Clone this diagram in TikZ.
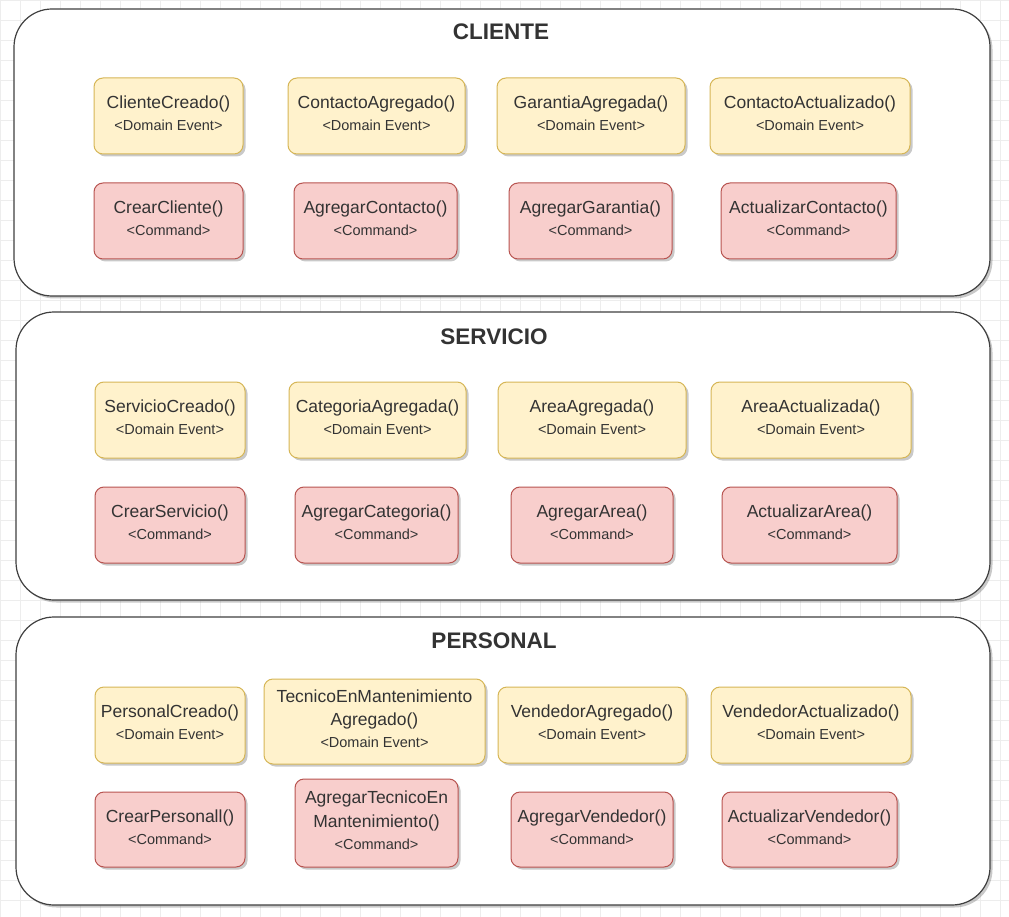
\documentclass[tikz,border=0pt]{standalone}
\usepackage{fontspec}
\setmainfont{Liberation Sans}
\usetikzlibrary{shadows}
\definecolor{evfill}{HTML}{FFF2CC}
\definecolor{evline}{HTML}{D6B656}
\definecolor{cmfill}{HTML}{F8CECC}
\definecolor{cmline}{HTML}{B85450}
\definecolor{txt}{HTML}{333333}
\newcommand{\evlabel}[1]{#1\\[-1.5pt]{\fontsize{14.5}{18}\selectfont <Domain Event>}\rule[-5.5pt]{0pt}{5.5pt}}
\newcommand{\cmlabel}[1]{#1\\[-1.5pt]{\fontsize{14.5}{18}\selectfont <Command>}\rule[-5.5pt]{0pt}{5.5pt}}
\begin{document}
\begin{tikzpicture}[x=1pt, y=-1pt,
    every node/.style={text=txt, align=center, font=\fontsize{17.5}{23.5}\selectfont},
    sdw/.style={drop shadow={shadow xshift=2.5pt, shadow yshift=-2.5pt, opacity=0.35, fill=black!60}},
    ctx/.style={draw=black!75, line width=1.2pt, fill=white, rounded corners=38pt, sdw},
    ctxtitle/.style={font=\fontsize{22.5}{26}\selectfont\bfseries},
    evbox/.style={draw=evline, fill=evfill, line width=1pt, rounded corners=9pt, inner sep=0pt, sdw},
    cmbox/.style={draw=cmline, fill=cmfill, line width=1pt, rounded corners=9pt, inner sep=0pt, sdw}]
    \useasboundingbox (0,0) rectangle (1009,917);
    \fill[white] (0,0) rectangle (1009,917);
    \draw[black!7, step=20pt] (0,0) grid (1009,917);

    \draw[ctx] (14,9) rectangle (990,296);
    \draw[ctx] (16,312) rectangle (990,600);
    \draw[ctx] (16,617) rectangle (990,905);
    \node[ctxtitle] (cliente) at (501,32) {CLIENTE};
    \node[ctxtitle] (servicio) at (494,337) {SERVICIO};
    \node[ctxtitle] (personal) at (494,641) {PERSONAL};

    \node[evbox, minimum width=149pt, minimum height=76pt] (ev11) at (168.5,116) {\evlabel{ClienteCreado()}};
    \node[evbox, minimum width=177pt, minimum height=76pt] (ev12) at (376.5,116) {\evlabel{ContactoAgregado()}};
    \node[evbox, minimum width=188pt, minimum height=76pt] (ev13) at (591,116) {\evlabel{GarantiaAgregada()}};
    \node[evbox, minimum width=200pt, minimum height=76pt] (ev14) at (810,116) {\evlabel{ContactoActualizado()}};
    \node[cmbox, minimum width=149pt, minimum height=76pt] (cm11) at (168.5,221) {\cmlabel{CrearCliente()}};
    \node[cmbox, minimum width=163pt, minimum height=76pt] (cm12) at (375.5,221) {\cmlabel{AgregarContacto()}};
    \node[cmbox, minimum width=163pt, minimum height=76pt] (cm13) at (590.5,221) {\cmlabel{AgregarGarantia()}};
    \node[cmbox, minimum width=175pt, minimum height=76pt] (cm14) at (808.5,221) {\cmlabel{ActualizarContacto()}};

    \node[evbox, minimum width=150pt, minimum height=76pt] (ev21) at (170,420) {\evlabel{ServicioCreado()}};
    \node[evbox, minimum width=177pt, minimum height=76pt] (ev22) at (377.5,420) {\evlabel{CategoriaAgregada()}};
    \node[evbox, minimum width=188pt, minimum height=76pt] (ev23) at (592,420) {\evlabel{AreaAgregada()}};
    \node[evbox, minimum width=200pt, minimum height=76pt] (ev24) at (811,420) {\evlabel{AreaActualizada()}};
    \node[cmbox, minimum width=150pt, minimum height=76pt] (cm21) at (170,525) {\cmlabel{CrearServicio()}};
    \node[cmbox, minimum width=163pt, minimum height=76pt] (cm22) at (376.5,525) {\cmlabel{AgregarCategoria()}};
    \node[cmbox, minimum width=162pt, minimum height=76pt] (cm23) at (592,525) {\cmlabel{AgregarArea()}};
    \node[cmbox, minimum width=175pt, minimum height=76pt] (cm24) at (809.5,525) {\cmlabel{ActualizarArea()}};

    \node[evbox, minimum width=150pt, minimum height=76pt] (ev31) at (170,725) {\evlabel{PersonalCreado()}};
    \node[evbox, minimum width=221pt, minimum height=85pt] (ev32) at (374.5,721.5) {\evlabel{TecnicoEnMantenimiento\\Agregado()}};
    \node[evbox, minimum width=188pt, minimum height=76pt] (ev33) at (592,725) {\evlabel{VendedorAgregado()}};
    \node[evbox, minimum width=200pt, minimum height=76pt] (ev34) at (811,725) {\evlabel{VendedorActualizado()}};
    \node[cmbox, minimum width=150pt, minimum height=75pt] (cm31) at (170,829.5) {\cmlabel{CrearPersonall()}};
    \node[cmbox, minimum width=163pt, minimum height=88pt] (cm32) at (376.5,823) {\cmlabel{AgregarTecnicoEn\\Mantenimiento()}};
    \node[cmbox, minimum width=162pt, minimum height=75pt] (cm33) at (592,829.5) {\cmlabel{AgregarVendedor()}};
    \node[cmbox, minimum width=175pt, minimum height=75pt] (cm34) at (809.5,829.5) {\cmlabel{ActualizarVendedor()}};
\end{tikzpicture}
\end{document}
